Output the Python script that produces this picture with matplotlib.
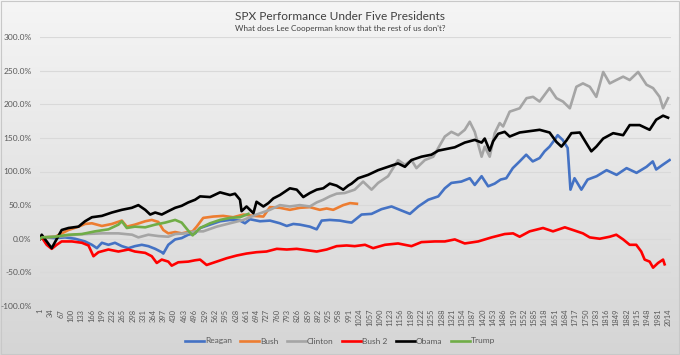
import matplotlib
matplotlib.use("Agg")
import matplotlib.pyplot as plt
import numpy as np
from matplotlib.colors import LinearSegmentedColormap

plt.rcParams['font.family'] = ['Lato', 'DejaVu Sans']

# ---------------- data (trading day index, % performance) ----------------
N_DAYS = 2024
x_tick_days = list(range(1, 2015, 33))
y_ticks = [-100, -50, 0, 50, 100, 150, 200, 250, 300]

reagan_days = [1, 6, 49, 81, 113, 145, 167, 183, 199, 220, 241, 263, 284, 305, 327, 348, 370, 391, 396,
               412, 434, 455, 476, 498, 514, 546, 578, 610, 642, 658, 674, 706, 738, 770, 792, 813,
               834, 866, 888, 904, 930, 962, 985, 1000, 1032, 1064, 1096, 1128, 1160, 1187, 1214,
               1246, 1278, 1299, 1320, 1352, 1379, 1395, 1417, 1438, 1459, 1478, 1496, 1517, 1539,
               1560, 1581, 1603, 1619, 1635, 1651, 1661, 1677, 1693, 1702, 1715, 1737, 1757, 1786,
               1818, 1850, 1882, 1914, 1946, 1966, 1977, 1998, 2020]
reagan_vals = [0, 2, 1, 2, 0, -4, -9, -14, -6, -9, -6, -11, -14, -11, -9, -11, -15, -20, -22,
               -9, -1, 1, 6, 8, 16, 21, 26, 28, 27, 23, 29, 26, 27, 23, 19, 22,
               21, 18, 14, 27, 28, 27, 25, 24, 36, 37, 44, 48, 42, 37, 48,
               58, 63, 75, 83, 85, 90, 80, 93, 78, 82, 88, 90, 105, 115,
               125, 115, 120, 130, 137, 147, 154, 147, 135, 73, 90, 73, 88, 93,
               102, 95, 105, 98, 107, 115, 103, 110, 117]

bush_days = [1, 6, 49, 92, 124, 145, 167, 199, 231, 263, 279, 305, 338, 359, 380, 396, 412, 434, 455,
             476, 490, 503, 524, 556, 588, 620, 653, 685, 717, 738, 770, 802, 834, 866, 898, 920,
             941, 973, 995, 1017]
bush_vals = [0, 2, 3, 13, 18, 22, 23, 19, 22, 27, 18, 21, 26, 28, 25, 13, 8, 10, 8,
             10, 11, 18, 31, 33, 34, 32, 36, 34, 33, 47, 46, 43, 46, 47, 43, 45,
             43, 50, 53, 52]

clinton_days = [1, 6, 49, 81, 113, 145, 199, 252, 296, 316, 348, 380, 412, 434, 466, 498, 524, 567,
                610, 653, 695, 738, 770, 802, 834, 866, 888, 909, 930, 952, 978, 1010, 1037, 1064,
                1085, 1117, 1149, 1171, 1192, 1208, 1235, 1262, 1278, 1299, 1320, 1342, 1363, 1379,
                1395, 1417, 1427, 1443, 1459, 1475, 1486, 1507, 1539, 1561, 1582, 1603, 1635, 1657,
                1678, 1700, 1721, 1742, 1764, 1785, 1807, 1828, 1849, 1871, 1892, 1919, 1946, 1967,
                1988, 1999, 2015]
clinton_vals = [0, 2, 3, 4, 6, 7, 8, 8, 6, 2, 6, 4, 3, 7, 8, 11, 11, 18,
                23, 28, 36, 43, 50, 48, 50, 48, 54, 58, 63, 67, 68, 73, 85, 73,
                83, 93, 117, 110, 117, 105, 117, 122, 135, 152, 159, 154, 162, 174,
                159, 122, 137, 122, 157, 172, 167, 189, 194, 209, 211, 204, 224, 209,
                204, 194, 226, 231, 226, 211, 248, 231, 236, 241, 236, 248, 229, 224,
                211, 194, 209]

bush2_days = [1, 6, 22, 38, 54, 70, 103, 135, 156, 172, 188, 220, 252, 284, 305, 338, 359, 375, 391,
              412, 423, 444, 476, 498, 514, 535, 567, 599, 631, 663, 695, 727, 760, 792, 824, 856,
              888, 920, 952, 984, 1010, 1043, 1069, 1107, 1149, 1192, 1224, 1267, 1299, 1331, 1363,
              1406, 1449, 1491, 1518, 1539, 1571, 1614, 1646, 1684, 1710, 1742, 1764, 1796, 1828,
              1849, 1871, 1892, 1913, 1929, 1940, 1956, 1967, 1983, 1999, 2004]
bush2_vals = [0, 2, -9, -15, -9, -4, -4, -6, -10, -26, -20, -16, -19, -16, -19, -21, -26, -36, -31,
              -34, -40, -35, -34, -32, -31, -39, -34, -29, -25, -22, -20, -19, -15, -16, -15, -17,
              -19, -16, -11, -10, -11, -9, -14, -9, -7, -11, -5, -4, -4, -1, -7,
              -4, 2, 7, 8, 3, 11, 16, 11, 17, 13, 8, 2, 0, 3,
              6, -1, -9, -9, -19, -31, -34, -43, -36, -31, -38]

obama_days = [1, 6, 38, 70, 92, 124, 145, 167, 199, 231, 263, 295, 316, 338, 354, 370, 391, 412, 434,
              455, 476, 498, 514, 546, 578, 610, 626, 642, 647, 663, 685, 695, 717, 733, 749, 770,
              802, 824, 845, 866, 888, 909, 930, 952, 973, 989, 1000, 1021, 1053, 1085, 1117, 1149,
              1171, 1192, 1224, 1256, 1278, 1299, 1331, 1363, 1395, 1417, 1427, 1443, 1454, 1470,
              1491, 1507, 1539, 1571, 1603, 1635, 1657, 1673, 1689, 1705, 1732, 1753, 1769, 1785,
              1807, 1839, 1871, 1892, 1924, 1956, 1977, 1999, 2015]
obama_vals = [0, 6, -14, 13, 16, 18, 26, 32, 34, 39, 43, 46, 50, 43, 36, 39, 36, 41, 46,
              49, 54, 58, 63, 62, 69, 65, 67, 58, 41, 48, 38, 55, 48, 53, 60, 65,
              75, 73, 62, 68, 73, 75, 82, 79, 73, 79, 82, 90, 95, 102, 107, 112,
              107, 117, 122, 125, 131, 133, 136, 143, 147, 143, 149, 131, 145, 156,
              159, 152, 158, 160, 162, 158, 144, 137, 146, 157, 158, 142, 130, 137,
              149, 157, 154, 169, 169, 162, 177, 183, 180]

trump_days = [1, 6, 49, 92, 135, 177, 220, 252, 263, 279, 305, 338, 370, 402, 434, 455, 476, 490,
              514, 546, 578, 610, 642, 669]
trump_vals = [0, 2, 3, 6, 7, 11, 14, 21, 26, 16, 18, 17, 21, 24, 28, 24, 12, 5,
              16, 23, 28, 31, 32, 37]

series = [
    ("Reagan", reagan_days, reagan_vals, "#4472C4"),
    ("Bush", bush_days, bush_vals, "#ED7D31"),
    ("Clinton", clinton_days, clinton_vals, "#A5A5A5"),
    ("Bush 2", bush2_days, bush2_vals, "#FF0000"),
    ("Obama", obama_days, obama_vals, "#000000"),
    ("Trump", trump_days, trump_vals, "#70AD47"),
]

# ---------------- figure ----------------
fig = plt.figure(figsize=(6.8, 3.55), dpi=100)

# gradient background
bg = fig.add_axes([0, 0, 1, 1], zorder=-10)
grad = np.linspace(0, 1, 256).reshape(-1, 1)
cmap = LinearSegmentedColormap.from_list("g", ["#f5f5f5", "#d5d5d5"])
bg.imshow(grad, aspect="auto", cmap=cmap, extent=[0, 1, 0, 1], origin="upper")
bg.set_xlim(0, 1); bg.set_ylim(0, 1)
bg.axis("off")
bg.add_patch(plt.Rectangle((0.001, 0.002), 0.998, 0.996, fill=False, ec="#c8c8c8", lw=0.8,
                           transform=bg.transAxes))

ax = fig.add_axes([40 / 680, (355 - 306) / 355, (671 - 40) / 680, (306 - 37) / 355])
ax.set_facecolor("none")

for name, d, v, c in series:
    ax.plot(d, v, color=c, lw=1.9, label=name, solid_joinstyle="round")

ax.set_xlim(0.5, N_DAYS + 0.5)
ax.set_ylim(-100, 300)
ax.set_yticks(y_ticks)
ax.set_yticklabels([f"{t:.1f}%" for t in y_ticks], fontsize=6.0, color="#595959")
ax.set_xticks(x_tick_days)
ax.set_xticklabels([str(t) for t in x_tick_days], rotation=90, fontsize=5.4, color="#595959")
ax.tick_params(axis="both", length=0, pad=2)
ax.tick_params(axis="y", pad=6)
ax.grid(axis="y", color="#d9d9d9", lw=0.8)
ax.set_axisbelow(True)
for s in ax.spines.values():
    s.set_visible(False)

fig.text(0.5, 1 - 16 / 355, "SPX Performance Under Five Presidents", ha="center", va="center",
         fontsize=8.6, color="#404040")
fig.text(0.5, 1 - 28.5 / 355, "What does Lee Cooperman know that the rest of us don't?", ha="center",
         va="center", fontsize=5.9, color="#404040")

leg = fig.legend(loc="center", bbox_to_anchor=(0.5, 1 - 341 / 355), ncol=6, frameon=False,
                 fontsize=6.0, handlelength=2.3, handletextpad=0.1, columnspacing=1.0)
for t in leg.get_texts():
    t.set_color("#595959")

fig.savefig("out.png", dpi=100)
